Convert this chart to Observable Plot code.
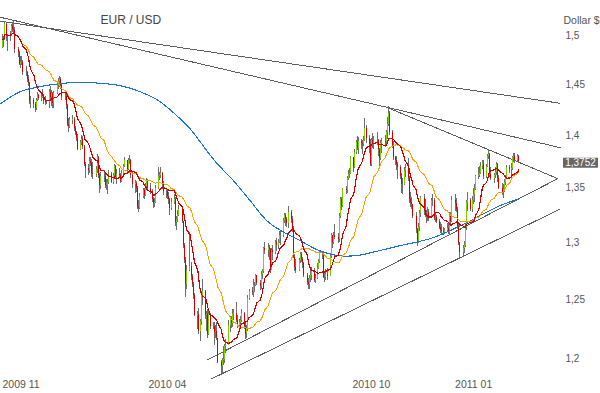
<!DOCTYPE html>
<html><head><meta charset="utf-8">
<script src="https://cdn.jsdelivr.net/npm/d3@7"></script>
<script src="https://cdn.jsdelivr.net/npm/@observablehq/plot@0.6"></script>
<style>body{margin:0;background:#fff;} #chart svg{display:block}</style>
</head><body><div id="chart"></div>
<script>
// ---------- data ----------
const firstMonday = "2009-11-23";   // trading days Mon..Fri, one row of 5 per week
const openFirst = 1.4880;
const close = [
1.4960,1.4960,1.5110,1.4990,1.4990, 1.5000,1.5090,1.5060,1.5050,1.4860,
1.4820,1.4700,1.4720,1.4720,1.4620, 1.4620,1.4550,1.4510,1.4330,1.4340,
1.4300,1.4260,1.4340,1.4390,1.4360, 1.4370,1.4390,1.4330,1.4320,1.4320,
1.4420,1.4370,1.4410,1.4310,1.4410, 1.4510,1.4530,1.4550,1.4490,1.4380,
1.4380,1.4290,1.4110,1.4090,1.4140, 1.4150,1.4070,1.4030,1.3970,1.3860,
1.3930,1.3960,1.3890,1.3720,1.3680, 1.3660,1.3750,1.3730,1.3640,1.3630,
1.3670,1.3790,1.3620,1.3520,1.3610, 1.3610,1.3520,1.3520,1.3550,1.3630,
1.3550,1.3620,1.3700,1.3600,1.3630, 1.3620,1.3560,1.3640,1.3700,1.3760,
1.3670,1.3760,1.3760,1.3620,1.3530, 1.3540,1.3500,1.3320,1.3310,1.3420,
1.3480,1.3430,1.3510,1.3570,1.3500, 1.3470,1.3390,1.3360,1.3370,1.3500,
1.3610,1.3620,1.3640,1.3530,1.3470, 1.3470,1.3420,1.3390,1.3310,1.3370,
1.3390,1.3180,1.3210,1.3250,1.3300, 1.3190,1.2970,1.2840,1.2630,1.2750,
1.2790,1.2700,1.2630,1.2530,1.2360, 1.2370,1.2230,1.2310,1.2530,1.2570,
1.2360,1.2370,1.2200,1.2370,1.2270, 1.2270,1.2220,1.2230,1.2170,1.1970,
1.1930,1.1980,1.1990,1.2100,1.2110, 1.2280,1.2330,1.2290,1.2370,1.2380,
1.2320,1.2280,1.2300,1.2320,1.2380, 1.2270,1.2200,1.2240,1.2510,1.2570,
1.2560,1.2620,1.2620,1.2710,1.2640, 1.2610,1.2720,1.2740,1.2950,1.2930,
1.2960,1.2940,1.2750,1.2930,1.2910, 1.3000,1.2970,1.3000,1.3060,1.3060,
1.3200,1.3250,1.3210,1.3170,1.3270, 1.3210,1.3130,1.2870,1.2780,1.2750,
1.2840,1.2890,1.2850,1.2810,1.2710, 1.2650,1.2630,1.2680,1.2710,1.2750,
1.2660,1.2680,1.2770,1.2830,1.2900, 1.2890,1.2690,1.2690,1.2720,1.2700,
1.2880,1.3060,1.3000,1.3060,1.3050, 1.3030,1.3240,1.3390,1.3330,1.3490,
1.3480,1.3590,1.3630,1.3640,1.3790, 1.3690,1.3840,1.3930,1.3870,1.3940,
1.3920,1.3910,1.3950,1.4070,1.3970, 1.3910,1.3720,1.3950,1.3920,1.3950,
1.3950,1.3860,1.3780,1.3920,1.3940, 1.3930,1.4030,1.4110,1.4210,1.4030,
1.3900,1.3790,1.3760,1.3720,1.3690, 1.3610,1.3530,1.3530,1.3660,1.3680,
1.3590,1.3390,1.3370,1.3350,1.3240, 1.3120,1.3000,1.3140,1.3260,1.3400,
1.3280,1.3250,1.3240,1.3270,1.3220, 1.3380,1.3380,1.3220,1.3230,1.3190,
1.3140,1.3110,1.3100,1.3090,1.3110, 1.3130,1.3090,1.3250,1.3190,1.3380,
1.3360,1.3300,1.3140,1.2990,1.2910, 1.2950,1.2970,1.3140,1.3370,1.3380,
1.3300,1.3380,1.3440,1.3490,1.3610, 1.3620,1.3640,1.3700,1.3730,1.3610,
1.3700,1.3800,1.3820,1.3630,1.3590, 1.3620,1.3650,1.3720,1.3590,1.3500,
1.3460,1.3490,1.3550,1.3600,1.3690, 1.3670,1.3680,1.3790,1.3800,1.3760,
1.3800,1.3752];
const high = [
1.5010,1.4990,1.5145,1.5120,1.5010, 1.5040,1.5110,1.5120,1.5145,1.5080,
1.4880,1.4840,1.4780,1.4780,1.4740, 1.4680,1.4630,1.4590,1.4520,1.4380,
1.4360,1.4320,1.4360,1.4420,1.4400, 1.4420,1.4450,1.4400,1.4380,1.4340,
1.4450,1.4480,1.4440,1.4420,1.4430, 1.4530,1.4560,1.4580,1.4570,1.4510,
1.4420,1.4400,1.4300,1.4160,1.4170, 1.4190,1.4170,1.4090,1.4040,1.4010,
1.3950,1.4000,1.3990,1.3900,1.3740, 1.3720,1.3790,1.3790,1.3770,1.3740,
1.3700,1.3820,1.3800,1.3640,1.3650, 1.3660,1.3630,1.3580,1.3580,1.3660,
1.3650,1.3640,1.3720,1.3710,1.3670, 1.3680,1.3640,1.3660,1.3720,1.3790,
1.3760,1.3780,1.3810,1.3770,1.3650, 1.3570,1.3560,1.3510,1.3380,1.3450,
1.3500,1.3500,1.3540,1.3590,1.3580, 1.3540,1.3490,1.3410,1.3400,1.3520,
1.3690,1.3650,1.3690,1.3650,1.3560, 1.3500,1.3480,1.3460,1.3400,1.3400,
1.3440,1.3410,1.3240,1.3290,1.3340, 1.3320,1.3190,1.2990,1.2870,1.2800,
1.3090,1.2820,1.2720,1.2650,1.2550, 1.2400,1.2420,1.2330,1.2570,1.2670,
1.2580,1.2400,1.2410,1.2400,1.2380, 1.2300,1.2300,1.2280,1.2300,1.2170,
1.1980,1.2000,1.2100,1.2120,1.2160, 1.2320,1.2350,1.2350,1.2410,1.2410,
1.2470,1.2360,1.2330,1.2350,1.2410, 1.2390,1.2300,1.2280,1.2530,1.2590,
1.2600,1.2670,1.2650,1.2720,1.2700, 1.2660,1.2740,1.2760,1.2960,1.3000,
1.2990,1.2970,1.2950,1.2950,1.2970, 1.3020,1.3040,1.3030,1.3100,1.3100,
1.3220,1.3260,1.3260,1.3230,1.3330, 1.3290,1.3240,1.3150,1.2890,1.2850,
1.2860,1.2910,1.2910,1.2870,1.2820, 1.2730,1.2680,1.2710,1.2760,1.2780,
1.2770,1.2720,1.2810,1.2850,1.2920, 1.2920,1.2900,1.2740,1.2760,1.2770,
1.2900,1.3080,1.3060,1.3090,1.3160, 1.3080,1.3260,1.3410,1.3410,1.3500,
1.3510,1.3610,1.3660,1.3680,1.3800, 1.3790,1.3860,1.3950,1.3990,1.3980,
1.3960,1.3950,1.3990,1.4160,1.4100, 1.4000,1.3960,1.3970,1.4020,1.3990,
1.4030,1.3960,1.3870,1.3950,1.3970, 1.4000,1.4050,1.4170,1.4282,1.4230,
1.4050,1.3940,1.3800,1.3800,1.3740, 1.3710,1.3640,1.3590,1.3690,1.3720,
1.3780,1.3610,1.3460,1.3410,1.3340, 1.3270,1.3130,1.3170,1.3290,1.3420,
1.3440,1.3390,1.3290,1.3320,1.3300, 1.3400,1.3440,1.3400,1.3270,1.3250,
1.3210,1.3180,1.3160,1.3140,1.3130, 1.3170,1.3170,1.3270,1.3270,1.3420,
1.3440,1.3400,1.3320,1.3160,1.3000, 1.2970,1.3010,1.3160,1.3380,1.3460,
1.3400,1.3420,1.3500,1.3530,1.3620, 1.3690,1.3700,1.3740,1.3760,1.3760,
1.3720,1.3820,1.3862,1.3830,1.3690, 1.3640,1.3690,1.3740,1.3730,1.3620,
1.3540,1.3530,1.3580,1.3620,1.3710, 1.3710,1.3730,1.3800,1.3830,1.3830,
1.3820,1.3810];
const low = [
1.4870,1.4880,1.4950,1.4940,1.4830, 1.4940,1.4990,1.5030,1.5020,1.4810,
1.4770,1.4690,1.4660,1.4690,1.4590, 1.4580,1.4520,1.4480,1.4300,1.4260,
1.4260,1.4220,1.4240,1.4330,1.4340, 1.4330,1.4360,1.4300,1.4290,1.4300,
1.4260,1.4340,1.4280,1.4260,1.4260, 1.4400,1.4450,1.4470,1.4450,1.4340,
1.4340,1.4250,1.4090,1.4030,1.4070, 1.4110,1.4040,1.4000,1.3940,1.3850,
1.3850,1.3900,1.3860,1.3700,1.3590, 1.3620,1.3640,1.3700,1.3600,1.3580,
1.3600,1.3640,1.3590,1.3450,1.3490, 1.3550,1.3500,1.3480,1.3440,1.3530,
1.3540,1.3530,1.3590,1.3580,1.3530, 1.3600,1.3540,1.3550,1.3600,1.3690,
1.3640,1.3660,1.3720,1.3590,1.3500, 1.3450,1.3460,1.3300,1.3270,1.3300,
1.3400,1.3390,1.3420,1.3480,1.3470, 1.3440,1.3370,1.3310,1.3320,1.3360,
1.3490,1.3570,1.3590,1.3490,1.3430, 1.3400,1.3390,1.3350,1.3250,1.3290,
1.3350,1.3150,1.3110,1.3180,1.3240, 1.3170,1.2950,1.2810,1.2520,1.2590,
1.2740,1.2660,1.2600,1.2500,1.2350, 1.2240,1.2200,1.2140,1.2280,1.2450,
1.2330,1.2230,1.2170,1.2190,1.2240, 1.2240,1.2110,1.2170,1.2150,1.1960,
1.1875,1.1880,1.1940,1.1960,1.2040, 1.2110,1.2220,1.2250,1.2260,1.2320,
1.2300,1.2250,1.2220,1.2250,1.2300, 1.2240,1.2155,1.2170,1.2230,1.2490,
1.2530,1.2520,1.2560,1.2610,1.2620, 1.2580,1.2590,1.2670,1.2730,1.2890,
1.2870,1.2840,1.2730,1.2760,1.2840, 1.2890,1.2920,1.2940,1.2990,1.2970,
1.3050,1.3170,1.3150,1.3140,1.3130, 1.3170,1.3090,1.2860,1.2740,1.2730,
1.2740,1.2810,1.2820,1.2770,1.2690, 1.2620,1.2590,1.2590,1.2650,1.2660,
1.2650,1.2640,1.2670,1.2760,1.2810, 1.2850,1.2680,1.2650,1.2660,1.2660,
1.2700,1.2860,1.2950,1.2980,1.3030, 1.2990,1.3000,1.3220,1.3290,1.3320,
1.3440,1.3450,1.3570,1.3590,1.3630, 1.3650,1.3680,1.3820,1.3850,1.3820,
1.3860,1.3820,1.3890,1.3940,1.3920, 1.3830,1.3700,1.3700,1.3870,1.3860,
1.3900,1.3800,1.3700,1.3760,1.3830, 1.3880,1.3910,1.3960,1.4090,1.4000,
1.3870,1.3760,1.3710,1.3660,1.3580, 1.3580,1.3450,1.3440,1.3520,1.3600,
1.3560,1.3360,1.3320,1.3300,1.3220, 1.3080,1.2969,1.2990,1.3100,1.3230,
1.3250,1.3230,1.3170,1.3190,1.3190, 1.3220,1.3330,1.3200,1.3180,1.3170,
1.3120,1.3080,1.3060,1.3060,1.3070, 1.3090,1.3070,1.3070,1.3160,1.3180,
1.3280,1.3270,1.3120,1.2970,1.2870, 1.2870,1.2900,1.2960,1.3110,1.3280,
1.3280,1.3270,1.3350,1.3370,1.3480, 1.3580,1.3600,1.3630,1.3670,1.3580,
1.3590,1.3690,1.3770,1.3600,1.3570, 1.3540,1.3590,1.3620,1.3550,1.3490,
1.3430,1.3400,1.3460,1.3520,1.3580, 1.3640,1.3590,1.3660,1.3740,1.3730,
1.3740,1.3730];

// slow (blue) moving average, read at sample points
const blueDates = ["2009-11-21","2009-12-09","2009-12-27","2010-01-14","2010-02-01","2010-02-18",
  "2010-03-08","2010-03-26","2010-04-13","2010-05-01","2010-05-10","2010-05-19","2010-06-01",
  "2010-06-18","2010-07-03","2010-07-18","2010-08-03","2010-08-17","2010-09-01","2010-09-15",
  "2010-09-26","2010-10-07","2010-10-23","2010-11-14","2010-12-14","2011-01-13","2011-02-12","2011-03-01"];
const blueValues = [1.4311,1.4430,1.4480,1.4510,1.4523,1.4513,
  1.4490,1.4430,1.4331,1.4163,1.4066,1.3940,1.3758,
  1.3569,1.3382,1.3198,1.3089,1.3017,1.2937,1.2892,
  1.2879,1.2885,1.2919,1.2972,1.3044,1.3180,1.3336,1.3401];

// trend lines: id, start date, start price, end date, end price
const trendIds    = ["A","B","E","C","D"];
const trendStart  = ["2009-11-21","2009-11-21","2010-11-04","2010-05-26","2010-05-29"];
const trendStartP = [1.5149,1.5190,1.4268,1.1990,1.1831];
const trendEnd    = ["2011-04-07","2011-04-07","2011-04-05","2011-04-05","2011-04-07"];
const trendEndP   = [1.4314,1.3882,1.3588,1.3588,1.3305];

const yTicks = [1.2,1.25,1.3,1.35,1.4,1.45,1.5];
const xTicks = ["2009-11-21T00:40Z","2010-04-01","2010-10-01","2011-01-01"];
const lastValue = 1.3752;
const title = "EUR / USD";
const unitLabel = "Dollar $";

// ---------- build tables ----------
const t0 = new Date(firstMonday + "T00:00Z");
const candles = close.map((c, i) => ({
  date: d3.utcDay.offset(t0, Math.floor(i / 5) * 7 + (i % 5)),
  open: i ? close[i - 1] : openFirst, high: high[i], low: low[i], close: c
}));
const up = candles.filter(d => d.close >= d.open);
const down = candles.filter(d => d.close < d.open);
const blueRows = blueDates.map((d, i) => ({date: new Date(d), value: blueValues[i]}));
const trendRows = trendIds.flatMap((id, i) => [
  {id, date: new Date(trendStart[i]), price: trendStartP[i]},
  {id, date: new Date(trendEnd[i]), price: trendEndP[i]}
]);
const FONT = "'Liberation Sans', Arial, sans-serif";

const chart = Plot.plot({
  width: 600, height: 393,
  marginLeft: 0, marginRight: 40, marginTop: 35, marginBottom: 35,
  x: {type: "utc", domain: [new Date("2009-11-21T00:40Z"), new Date("2011-04-07T09:00Z")], axis: null},
  y: {type: "log", domain: [1.2, 1.5], axis: null},
  style: {fontFamily: FONT, background: "white", overflow: "visible"},
  marks: [
    Plot.line(trendRows, {x: "date", y: "price", z: "id", stroke: "#5c5c5c", strokeWidth: 1, shapeRendering: "crispEdges"}),
    Plot.ruleX(candles, {x: "date", y1: "low", y2: "high", stroke: "#6e6e6e", strokeWidth: 1, shapeRendering: "crispEdges"}),
    Plot.ruleX(up, {x: "date", y1: "open", y2: "close", stroke: "#7ed000", strokeWidth: 1, shapeRendering: "crispEdges"}),
    Plot.ruleX(down, {x: "date", y1: "open", y2: "close", stroke: "#d40000", strokeWidth: 1, shapeRendering: "crispEdges"}),
    Plot.lineY(blueRows, {x: "date", y: "value", stroke: "#1a73d9", strokeWidth: 1.1, curve: "monotone-x", shapeRendering: "crispEdges"}),
    Plot.lineY(candles, Plot.windowY({k: 30, anchor: "end"}, {x: "date", y: "close", stroke: "#ffa200", strokeWidth: 1, shapeRendering: "crispEdges"})),
    Plot.lineY(candles, Plot.windowY({k: 12, anchor: "end"}, {x: "date", y: "close", stroke: "#d40000", strokeWidth: 1.2, shapeRendering: "crispEdges"})),
    Plot.text(yTicks, {y: d => d, text: d => String(d).replace(".", ","), frameAnchor: "right", dx: 5, textAnchor: "start", fill: "#555", fontSize: 10}),
    Plot.text(xTicks, {x: d => new Date(d), text: d => d3.utcFormat("%Y %m")(new Date(d)), frameAnchor: "bottom", dy: 29, dx: 2, textAnchor: "start", fill: "#555", fontSize: 10.5}),
    Plot.text([title], {text: d => d, frameAnchor: "top-left", dx: 100, dy: -20, textAnchor: "start", fill: "#444", fontSize: 12}),
    Plot.text([unitLabel], {text: d => d, frameAnchor: "top-right", dx: 3, dy: -19, textAnchor: "start", fill: "#555", fontSize: 10.5}),
    (index, scales, values, dimensions) => {
      const yy = scales.y(lastValue);
      const x0 = dimensions.width - dimensions.marginRight + 3;
      const g = d3.create("svg:g");
      g.append("rect").attr("x", x0).attr("y", yy - 3).attr("width", 35).attr("height", 10).attr("fill", "#666");
      g.append("text").attr("x", x0 + 17.5).attr("y", yy + 2).attr("dy", "0.34em")
        .attr("text-anchor", "middle").attr("fill", "white").attr("font-size", 10)
        .attr("font-family", FONT).text(String(lastValue).replace(".", ","));
      return g.node();
    }
  ]
});
document.getElementById("chart").append(chart);
</script>
</body></html>
